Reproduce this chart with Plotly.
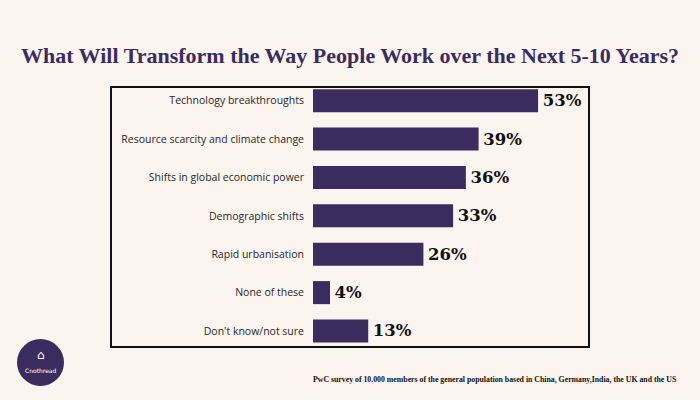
import plotly.graph_objects as go

categories = ["Technology breakthroughts", "Resource scarcity and climate change",
              "Shifts in global economic power", "Demographic shifts",
              "Rapid urbanisation", "None of these", "Don't know/not sure"]
values = [53, 39, 36, 33, 26, 4, 13]
value_labels = [f"\u200a{v}%" for v in values]

title_text = "What Will Transform the Way People Work over the Next 5-10 Years?"
source_text = "PwC survey of 10.000 members of the general population based in China, Germany,India, the UK and the US"
logo_text = "Cnothread"

BG = "#fbf4ef"
PURPLE = "#3b2c5f"

W, H = 700, 400
L, R, T, B = 313, 111, 87, 53
pw, ph = W - L - R, H - T - B

fig = go.Figure(go.Bar(
    x=values, y=categories, orientation="h",
    marker=dict(color=PURPLE, line=dict(width=0)),
    text=value_labels, textposition="outside",
    textfont=dict(family="DejaVu Serif", size=16.5, color="#111111", weight="bold"),
    cliponaxis=False, width=0.6,
))

def px2paper_x(px):
    return (px - L) / pw

def px2paper_y(py):
    return (H - B - py) / ph

fig.update_layout(
    width=W, height=H,
    paper_bgcolor=BG, plot_bgcolor="rgba(0,0,0,0)",
    margin=dict(l=L, r=R, t=T, b=B, autoexpand=False),
    showlegend=False,
    xaxis=dict(range=[0, 65], visible=False, fixedrange=True),
    yaxis=dict(categoryorder="array", categoryarray=categories,
               range=[6.417, -0.357], showgrid=False, zeroline=False,
               showline=False, ticks="", ticklabelstandoff=8, fixedrange=True,
               tickfont=dict(family="Open Sans", size=10.5, color="#2a2a2a")),
    title=dict(text="<b>" + title_text + "</b>", x=0.5, xref="container", xanchor="center",
               y=1 - 55 / H, yanchor="middle", yref="container",
               font=dict(family="Liberation Serif", size=22, color=PURPLE)),
    shapes=[
        dict(type="rect", xref="paper", yref="paper",
             x0=px2paper_x(111), x1=px2paper_x(589),
             y0=px2paper_y(347), y1=px2paper_y(87),
             line=dict(color="#111111", width=2), fillcolor="rgba(0,0,0,0)", layer="below"),
        dict(type="circle", xref="paper", yref="paper",
             x0=px2paper_x(17), x1=px2paper_x(64),
             y0=px2paper_y(386), y1=px2paper_y(339),
             line=dict(width=0), fillcolor=PURPLE),
    ],
    annotations=[
        dict(text="<b>" + source_text + "</b>", xref="paper", yref="paper",
             x=px2paper_x(678), y=px2paper_y(379), xanchor="right", yanchor="middle",
             showarrow=False, font=dict(family="Liberation Serif", size=7.8, color="#111111")),
        dict(text=logo_text, xref="paper", yref="paper",
             x=px2paper_x(40.5), y=px2paper_y(370), xanchor="center", yanchor="middle",
             showarrow=False, font=dict(family="DejaVu Sans", size=6, color="white")),
        dict(text="⌂", xref="paper", yref="paper",
             x=px2paper_x(40.5), y=px2paper_y(355), xanchor="center", yanchor="middle",
             showarrow=False, font=dict(family="DejaVu Sans", size=12, color="white")),
    ],
)

fig.write_html("out.html", config={"displayModeBar": False},
               post_script="document.body.style.margin='0';document.body.style.background='#fbf4ef';")
